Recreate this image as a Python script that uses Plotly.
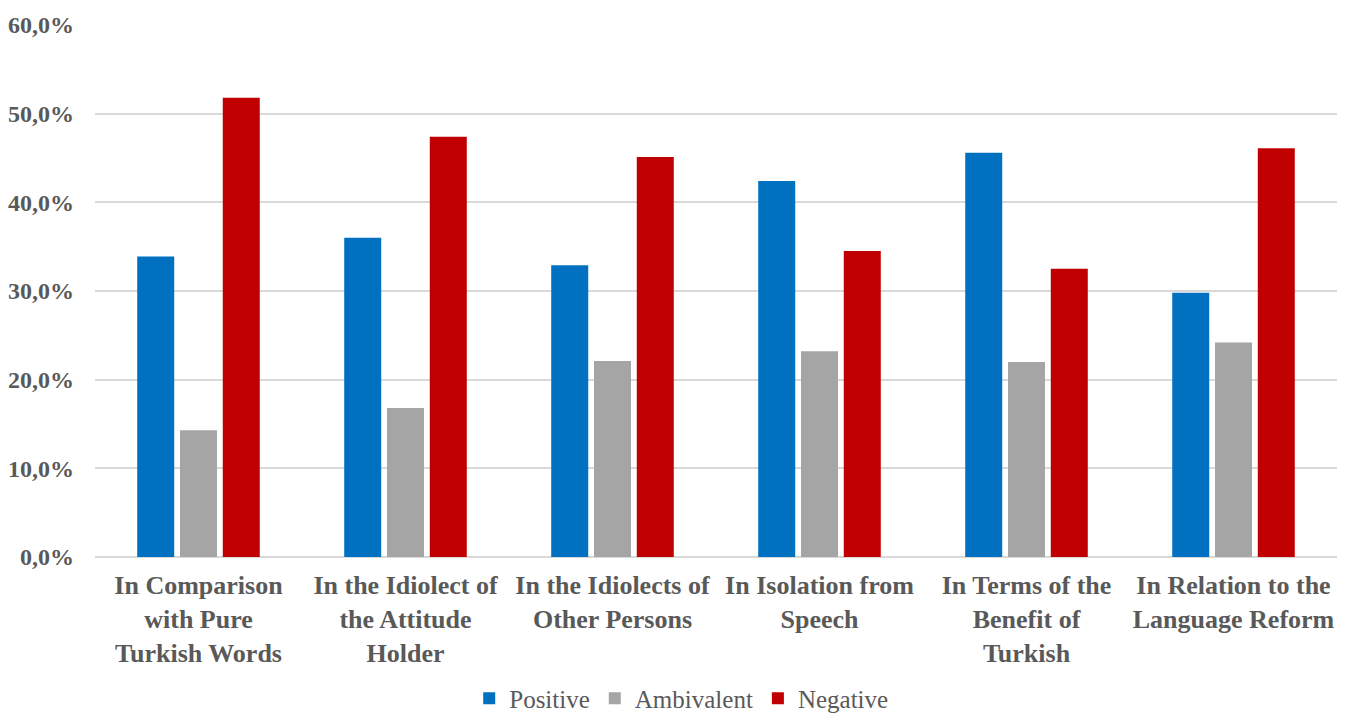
import plotly.graph_objects as go

categories = [
    "In Comparison<br>with Pure<br>Turkish Words",
    "In the Idiolect of<br>the Attitude<br>Holder",
    "In the Idiolects of<br>Other Persons",
    "In Isolation from<br>Speech",
    "In Terms of the<br>Benefit of<br>Turkish",
    "In Relation to the<br>Language Reform",
]
positive = [33.9, 36.0, 32.9, 42.4, 45.6, 29.8]
ambivalent = [14.3, 16.8, 22.1, 23.2, 22.0, 24.2]
negative = [51.8, 47.4, 45.1, 34.5, 32.5, 46.1]
y_ticks = [0, 10, 20, 30, 40, 50, 60]
y_tick_labels = ["0,0%", "10,0%", "20,0%", "30,0%", "40,0%", "50,0%", "60,0%"]

fig = go.Figure()
fig.add_bar(name="Positive", x=categories, y=positive, marker_color="#0070C0")
fig.add_bar(name="Ambivalent", x=categories, y=ambivalent, marker_color="#A5A5A5")
fig.add_bar(name="Negative", x=categories, y=negative, marker_color="#C00000")

font_color = "#595959"
serif = "'Liberation Serif', 'Times New Roman', serif"
fig.update_layout(
    template="none",
    width=1351, height=716,
    margin=dict(l=95, r=14, t=25, b=159, autoexpand=False),
    paper_bgcolor="white", plot_bgcolor="white",
    barmode="group", bargap=0.38, bargroupgap=0.135,
    font=dict(family=serif, color=font_color),
    showlegend=True,
    legend=dict(orientation="h", x=0.472, xanchor="center", y=-0.266, yanchor="middle",
                font=dict(size=25, color=font_color, family=serif, weight="normal"),
                traceorder="normal"),
    xaxis=dict(tickfont=dict(size=26, color=font_color, family=serif, weight="bold"),
               showline=False, ticks="", showgrid=False, automargin=False,
               ticklabelstandoff=10, zeroline=False),
    yaxis=dict(range=[0, 60], tickvals=y_ticks, ticktext=y_tick_labels,
               tickfont=dict(size=24, color=font_color, family=serif, weight="bold"),
               showgrid=True, gridcolor="#D9D9D9", gridwidth=1.5,
               zeroline=True, zerolinecolor="#D9D9D9", zerolinewidth=1.5,
               showline=False, ticks="", ticklabelstandoff=20, automargin=False),
)

fig.write_html("out.html")
